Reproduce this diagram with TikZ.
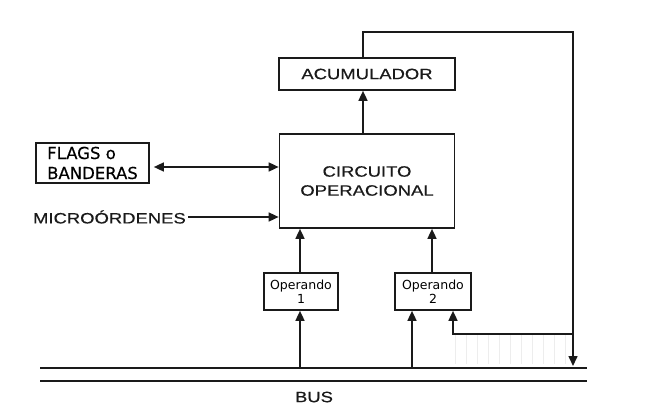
\documentclass[tikz,border=0pt]{standalone}
\usepackage{fontspec}
\setmainfont{Liberation Sans}
\newfontfamily\widefont[FakeStretch=1.23,FakeBold=0.6]{Liberation Sans}
\newfontfamily\dejavufont{DejaVu Sans}
\newfontfamily\flagfont[FakeBold=0.4]{DejaVu Sans}
\usetikzlibrary{arrows.meta}
\definecolor{ink}{HTML}{1A1A1A}
\definecolor{hatch}{HTML}{EDEDED}
\tikzset{
  blk/.style={draw=ink, line width=1.7pt, inner sep=0pt, align=center},
  wtext/.style={font=\widefont\fontsize{15}{19}\selectfont, text=ink},
  optext/.style={font=\dejavufont\fontsize{12.5}{14}\selectfont, text=black},
  tip/.tip={Triangle[length=10pt,width=9pt]},
  conn/.style={draw=ink, line width=1.6pt, -tip},
  busline/.style={draw=ink, line width=1.6pt},
}
\begin{document}
\begin{tikzpicture}[x=1pt,y=-1pt]
\useasboundingbox (0,0) rectangle (648,420);
% boxes
\node[blk, align=left, minimum width=113pt, minimum height=40pt,
      font=\flagfont\fontsize{16.5}{20}\selectfont] (flags) at (92.5,163) {FLAGS o\\BANDERAS};
\node[wtext, anchor=east, inner sep=0pt] (micro) at (186,217) {MICROÓRDENES};
\node[blk, wtext, minimum width=175pt, minimum height=94pt] (circ) at (367,181) {CIRCUITO\\OPERACIONAL};
\node[blk, wtext, minimum width=176pt, minimum height=32pt] (acum) at (367,74) {ACUMULADOR};
\node[blk, optext, minimum width=74pt, minimum height=37pt] (op1) at (301,291.5) {Operando\\1};
\node[blk, optext, minimum width=76pt, minimum height=37pt] (op2) at (433,291.5) {Operando\\2};
\node[wtext, inner sep=0pt] (bus) at (314,397) {BUS};
% hatching
\foreach \hx in {455,466,...,570} \draw[hatch, line width=0.6pt] (\hx,335) -- (\hx,364);
% bus lines
\coordinate (busL1) at (40,368);
\coordinate (busR1) at (587,368);
\coordinate (busL2) at (40,381);
\coordinate (busR2) at (587,381);
\draw[busline] (busL1) -- (busR1);
\draw[busline] (busL2) -- (busR2);
% coordinates
\coordinate (b1) at (300,367);
\coordinate (b2) at (412,367);
\coordinate (top) at (363,32);
\coordinate (topR) at (573,32);
\coordinate (fbEnd) at (573,366);
\coordinate (branch) at (573,334);
\coordinate (branchL) at (453,334);
\coordinate (c2) at (432,0);
\coordinate (fy) at (0,167);
% connectors
\draw[conn] (acum.north -| top) -- (top) -- (topR) -- (fbEnd);
\draw[conn] (circ.north -| top) -- (acum.south -| top);
\draw[conn] (op1.north -| b1) -- (circ.south -| b1);
\draw[conn] (op2.north -| c2) -- (circ.south -| c2);
\draw[conn] (b1) -- (op1.south -| b1);
\draw[conn] (b2) -- (op2.south -| b2);
\draw[conn] (branch) -- (branchL) -- (op2.south -| branchL);
\draw[conn, tip-tip] ([xshift=4pt]flags.east |- fy) -- (circ.west |- fy);
\draw[conn] ([xshift=2pt]micro.east) -- (circ.west |- micro.east);
\end{tikzpicture}
\end{document}
